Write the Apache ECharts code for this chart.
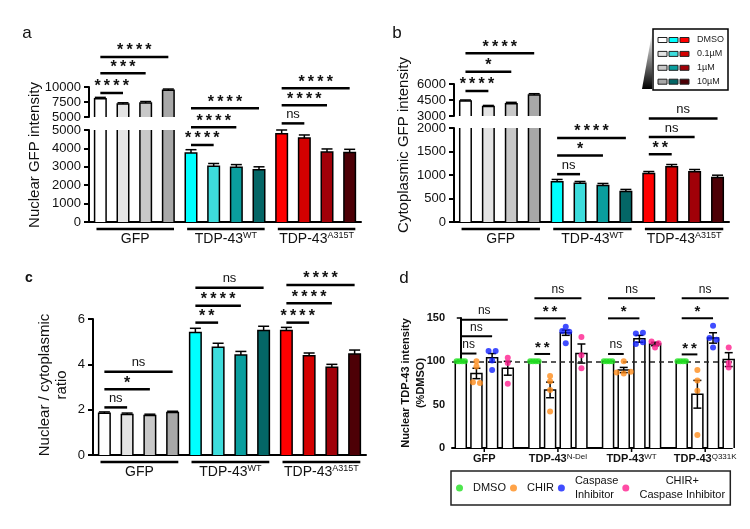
<!DOCTYPE html>
<html>
<head>
<meta charset="utf-8">
<title>GFP / TDP-43 intensity</title>
<script src="https://cdn.jsdelivr.net/npm/echarts@6/dist/echarts.min.js"></script>
<style>
  html, body { margin: 0; padding: 0; background: #fff; }
  #chart { width: 750px; height: 529px; }
</style>
</head>
<body>
<div id="chart"></div>
<script>
const FONT = '"Liberation Sans", Arial, sans-serif';

// panels a-c: three constructs, four doses each
const doses = ['DMSO', '0.1µM', '1µM', '10µM'];
const constructs = ['GFP', 'TDP-43', 'TDP-43'];
const constructSup = ['', 'WT', 'A315T'];

const nuclearGfp = [8050, 7170, 7330, 9440, 3750, 3030, 2980, 2840, 4800, 4560, 3800, 3780];
const nuclearGfpErr = [220, 200, 250, 220, 180, 150, 140, 160, 200, 170, 170, 170];
const cytoGfp = [4410, 3880, 4160, 4970, 855, 827, 777, 650, 1032, 1173, 1067, 947];
const cytoGfpErr = [90, 110, 120, 120, 50, 35, 43, 43, 42, 50, 50, 49];
const ratio = [1.84, 1.79, 1.74, 1.87, 5.40, 4.75, 4.41, 5.49, 5.49, 4.38, 3.87, 4.46];
const ratioErr = [0.06, 0.06, 0.06, 0.06, 0.19, 0.18, 0.16, 0.19, 0.14, 0.12, 0.13, 0.17];

// significance bars: [from bar, to bar, height (axis units), label]
const aSigUpper = [[0, 1, 9000, '****'], [0, 2, 12300, '***'], [0, 3, 15000, '****']];
const aSigLower = [[4, 5, 4185, '****'], [4, 6, 5145, '****'], [4, 7, 6180, '****'],
                   [8, 9, 5360, 'ns'], [8, 10, 6340, '****'], [8, 11, 7265, '****']];
const bSigUpper = [[0, 1, 5344, '****'], [0, 2, 7156, '*'], [0, 3, 8875, '****']];
const bSigLower = [[4, 5, 1018, 'ns'], [4, 6, 1414, '*'], [4, 7, 1788, '****'],
                   [8, 9, 1442, '**'], [8, 10, 1810, 'ns'], [8, 11, 2200, 'ns']];
const cSig = [[0, 1, 2.10, 'ns'], [0, 2, 2.90, '*'], [0, 3, 3.67, 'ns'],
              [4, 5, 5.84, '**'], [4, 6, 6.59, '****'], [4, 7, 7.38, 'ns'],
              [8, 9, 5.84, '****'], [8, 10, 6.69, '****'], [8, 11, 7.5, '****']];

// panel d: four constructs x four treatments
const dConstructs = ['GFP', 'TDP-43', 'TDP-43', 'TDP-43'];
const dConstructSup = ['', 'N-Del', 'WT', 'Q331K'];
const dTreatments = ['DMSO', 'CHIR', 'Caspase Inhibitor', 'CHIR+ Caspase Inhibitor'];
const dDmso = [100, 100, 100, 100];
const dChir = [86, 67, 90, 62];
const dCasp = [104, 133, 126, 127];
const dCombo = [92, 109, 120, 102];
const dDmsoErr = [0, 0, 0, 0];
const dChirErr = [6, 9, 3, 16];
const dCaspErr = [5, 3, 4, 6];
const dComboErr = [8, 11, 2, 8];
const dDmsoPts = [[100, 100, 100, 100], [100, 100, 100, 100], [100, 100, 100, 100], [100, 100, 100, 100]];
const dChirPts = [[100, 94, 76, 75], [83, 77, 67, 42], [100, 87, 86, 88], [90, 78, 66, 15]];
const dCaspPts = [[112, 112, 101, 90], [140, 135, 134, 121], [132, 133, 120, 122], [141, 127, 125, 116]];
const dComboPts = [[104, 98, 74], [128, 107, 92], [123, 121, 116], [116, 98, 93]];
// [construct, treatment, treatment, height, label]
const dSig = [[0, 0, 1, 109, 'ns'], [0, 0, 2, 129, 'ns'], [0, 0, 3, 148, 'ns'],
              [1, 0, 1, 108.5, '**'], [1, 0, 2, 149.6, '**'], [1, 0, 3, 172.7, 'ns'],
              [2, 0, 1, 108.5, 'ns'], [2, 0, 2, 149.6, '*'], [2, 0, 3, 172.7, 'ns'],
              [3, 0, 1, 108, '**'], [3, 0, 2, 149.6, '*'], [3, 0, 3, 172.7, 'ns']];

// colours
const gfpShades = ['#ffffff', '#e4e4e4', '#c8c8c8', '#a8a8a8'];
const wtShades = ['#00ffff', '#3ddcdc', '#0a9e9e', '#046666'];
const mutShades = ['#ff0000', '#d40000', '#a00008', '#4d0006'];
const dotColors = ['#22e022', '#ff8c1a', '#1020ff', '#ff1f8f'];
const barColors = gfpShades.concat(wtShades, mutShades);

const categories = [];
constructs.forEach((c, g) => doses.forEach(d => categories.push(c + constructSup[g] + ' ' + d)));

const D_STEP = 4.7; // construct spacing in bar widths, panel d
const dPos = (g, t) => g * D_STEP + t;

function barData(vals, errs) {
  return vals.map((v, i) => [i, v, errs[i]]);
}

// bars with outline + SEM whisker; clipped to the grid for the broken axes
function barRenderer(colorOf, barW, capW, twoSided) {
  return function (params, api) {
    const cs = params.coordSys;
    const top = cs.y, bot = cs.y + cs.height;
    const xv = api.value(0), v = api.value(1), e = api.value(2);
    const base = api.coord([xv, 0]);
    const x = base[0];
    const yv = api.coord([xv, v])[1];
    if (yv >= bot - 0.5) return;
    const y0 = Math.min(base[1], bot);
    const y1 = Math.max(yv, top);
    const l = x - barW / 2, r = x + barW / 2;
    const pen = { stroke: '#000', lineWidth: 1.5, fill: null };
    const kids = [{ type: 'rect', shape: { x: l, y: y1, width: barW, height: y0 - y1 },
                    style: { fill: colorOf(params.dataIndex) } }];
    if (yv >= top) {
      kids.push({ type: 'polyline', shape: { points: [[l, y0], [l, yv], [r, yv], [r, y0]] }, style: pen });
      if (e > 0) {
        const ye = api.coord([xv, v + e])[1];
        const yl = twoSided ? api.coord([xv, v - e])[1] : yv;
        kids.push({ type: 'line', shape: { x1: x, y1: ye, x2: x, y2: yl }, style: pen });
        kids.push({ type: 'line', shape: { x1: x - capW, y1: ye, x2: x + capW, y2: ye }, style: pen });
        if (twoSided) kids.push({ type: 'line', shape: { x1: x - capW, y1: yl, x2: x + capW, y2: yl }, style: pen });
      }
    } else {
      kids.push({ type: 'line', shape: { x1: l, y1: y0, x2: l, y2: top }, style: pen });
      kids.push({ type: 'line', shape: { x1: r, y1: y0, x2: r, y2: top }, style: pen });
    }
    return { type: 'group', children: kids };
  };
}

function sigRenderer(labels, starSize, nsSize, lineW) {
  return function (params, api) {
    const p1 = api.coord([api.value(0), api.value(2)]);
    const p2 = api.coord([api.value(1), api.value(2)]);
    const lab = labels[params.dataIndex];
    const ns = lab === 'ns';
    return {
      type: 'group',
      children: [
        { type: 'line', shape: { x1: p1[0], y1: p1[1], x2: p2[0], y2: p2[1] },
          style: { stroke: '#000', lineWidth: lineW } },
        { type: 'text', style: {
            text: ns ? lab : lab.split('').join('\u2009'),
            x: (p1[0] + p2[0]) / 2, y: p1[1] - (ns ? 9 : 6),
            align: 'center', verticalAlign: 'middle', fill: '#111',
            fontFamily: FONT, fontSize: ns ? nsSize : starSize, fontWeight: ns ? 'normal' : 'bold' } }
      ]
    };
  };
}

// underline + name below each construct (panels a-c)
function groupRenderer(params, api) {
  const g = params.dataIndex;
  const first = api.coord([api.value(0), 0]);
  const bw = api.size([1, 0])[0];
  const yAxis = params.coordSys.y + params.coordSys.height;
  const x1 = first[0] - 0.17 * bw, x2 = first[0] + 3.25 * bw;
  return {
    type: 'group',
    children: [
      { type: 'line', shape: { x1: x1, y1: yAxis + 7, x2: x2, y2: yAxis + 7 },
        style: { stroke: '#000', lineWidth: 2.5 } },
      { type: 'text', style: {
          text: '{n|' + constructs[g] + '}' + (constructSup[g] ? '{s|' + constructSup[g] + '}' : ''),
          x: (x1 + x2) / 2, y: yAxis + 17, align: 'center', verticalAlign: 'middle',
          rich: { n: { fontFamily: FONT, fontSize: 14, lineHeight: 16, fill: '#111' },
                  s: { fontFamily: FONT, fontSize: 9, lineHeight: 16, verticalAlign: 'top', fill: '#111' } } } }
    ]
  };
}

function dGroupRenderer(params, api) {
  const g = params.dataIndex;
  const c = api.coord([api.value(0), 0]);
  return {
    type: 'group',
    children: [
      { type: 'line', shape: { x1: c[0], y1: c[1], x2: c[0], y2: c[1] + 4 }, style: { stroke: '#000', lineWidth: 1.5 } },
      { type: 'text', style: {
          text: '{n|' + dConstructs[g] + '}' + (dConstructSup[g] ? '{s|' + dConstructSup[g] + '}' : ''),
          x: c[0], y: c[1] + 11, align: 'center', verticalAlign: 'middle',
          rich: { n: { fontFamily: FONT, fontSize: 11, fontWeight: 'bold', lineHeight: 13, fill: '#111' },
                  s: { fontFamily: FONT, fontSize: 8, lineHeight: 13, verticalAlign: 'top', fill: '#111' } } } }
    ]
  };
}

// horizontal spread of overlapping dots
function spread(vals, w) {
  return vals.map((v, k) => {
    const near = vals.map((_, j) => j).filter(j => Math.abs(vals[j] - v) < 4);
    return (near.indexOf(k) - (near.length - 1) / 2) * w;
  });
}

const yAxisBase = {
  axisLine: { show: true, lineStyle: { color: '#000', width: 2 } },
  axisTick: { show: true, length: 5, lineStyle: { color: '#000', width: 2 } },
  axisLabel: { fontFamily: FONT, fontSize: 13, color: '#111', margin: 8, formatter: v => String(v) },
  splitLine: { show: false }
};
const catAxis = (gi, showLine) => ({
  type: 'category', gridIndex: gi, data: categories, show: showLine,
  axisLine: { show: showLine, onZero: false, lineStyle: { color: '#000', width: 2 } },
  axisTick: { show: false }, axisLabel: { show: false }
});

const series = [];
function addBarPanel(xi, vals, errs, sig) {
  series.push({ type: 'custom', xAxisIndex: xi, yAxisIndex: xi, data: barData(vals, errs),
    encode: { x: 0, y: 1 }, renderItem: barRenderer(i => barColors[i], 11.5, 5.5, false), z: 2 });
  series.push({ type: 'custom', xAxisIndex: xi, yAxisIndex: xi, data: sig.map(s => [s[0], s[1], s[2]]),
    encode: { x: [0, 1], y: 2 }, renderItem: sigRenderer(sig.map(s => s[3]), 16, 13, 2.5), z: 3 });
}
addBarPanel(0, nuclearGfp, nuclearGfpErr, aSigUpper);
addBarPanel(1, nuclearGfp, nuclearGfpErr, aSigLower);
addBarPanel(2, cytoGfp, cytoGfpErr, bSigUpper);
addBarPanel(3, cytoGfp, cytoGfpErr, bSigLower);
addBarPanel(4, ratio, ratioErr, cSig);
[1, 3, 4].forEach(xi => series.push({ type: 'custom', xAxisIndex: xi, yAxisIndex: xi,
  data: [[0, 0], [4, 0], [8, 0]], encode: { x: 0, y: 1 }, renderItem: groupRenderer, z: 3 }));

// panel d
const dMeans = [dDmso, dChir, dCasp, dCombo];
const dErrs = [dDmsoErr, dChirErr, dCaspErr, dComboErr];
const dPts = [dDmsoPts, dChirPts, dCaspPts, dComboPts];
const dBars = [];
dMeans.forEach((m, t) => m.forEach((v, g) => dBars.push([dPos(g, t), v, dErrs[t][g]])));
series.push({ type: 'custom', xAxisIndex: 5, yAxisIndex: 5, data: dBars, encode: { x: 0, y: 1 },
  renderItem: barRenderer(() => '#fff', 11, 4, true), z: 2 });
series.push({ type: 'custom', xAxisIndex: 5, yAxisIndex: 5,
  data: dSig.map(s => [dPos(s[0], s[1]), dPos(s[0], s[2]), s[3]]), encode: { x: [0, 1], y: 2 },
  renderItem: sigRenderer(dSig.map(s => s[4]), 15, 12, 2), z: 3 });
series.push({ type: 'custom', xAxisIndex: 5, yAxisIndex: 5,
  data: dConstructs.map((_, g) => [dPos(g, 1.5), 0]), encode: { x: 0, y: 1 }, renderItem: dGroupRenderer, z: 3 });
dTreatments.forEach((name, t) => {
  const pts = [];
  dPts[t].forEach((vals, g) => {
    const off = spread(vals, t === 0 ? 0.18 : 0.45);
    vals.forEach((v, k) => pts.push([dPos(g, t) + off[k], v]));
  });
  const s = { type: 'scatter', name: name, xAxisIndex: 5, yAxisIndex: 5, data: pts,
    symbol: 'circle', symbolSize: 6, itemStyle: { color: dotColors[t] }, z: 5 };
  if (t === 0) {
    s.markLine = { silent: true, symbol: ['none', 'none'], label: { show: false },
      lineStyle: { type: [5, 4], color: '#222', width: 1.5 }, data: [{ yAxis: 100 }] };
  }
  series.push(s);
});

// b: dose legend with gradient wedge
const legendB = [
  { type: 'polygon', shape: { points: [[642, 89], [652, 89], [652, 33]] },
    style: { fill: new echarts.graphic.LinearGradient(0, 0, 0, 1, [{ offset: 0, color: '#ffffff' }, { offset: 1, color: '#000000' }]) } },
  { type: 'rect', shape: { x: 653, y: 29, width: 75, height: 61 }, style: { fill: '#fff', stroke: '#000', lineWidth: 1.5 } }
];
doses.forEach((d, r) => {
  const y = 40 + r * 13.9;
  [gfpShades[r], wtShades[r], mutShades[r]].forEach((c, k) => legendB.push({
    type: 'rect', shape: { x: 658 + k * 11, y: y - 2.5, width: 9, height: 5 },
    style: { fill: c, stroke: '#222', lineWidth: 1 } }));
  legendB.push({ type: 'text', style: { text: d, x: 697, y: y, verticalAlign: 'middle',
    fontFamily: FONT, fontSize: 9, fill: '#222' } });
});

const txt = (text, x, y, size, extra) => ({ type: 'text', style: Object.assign({
  text: text, x: x, y: y, fontFamily: FONT, fontSize: size, fill: '#111',
  align: 'center', verticalAlign: 'middle' }, extra || {}) });
const rot = (el, x, y) => Object.assign(el, { x: x, y: y, rotation: Math.PI / 2,
  style: Object.assign(el.style, { x: 0, y: 0 }) });

const option = {
  animation: false,
  backgroundColor: '#fff',
  grid: [
    { left: 89, top: 87, width: 272, height: 30 },
    { left: 89, top: 130, width: 272, height: 92 },
    { left: 454, top: 84, width: 275, height: 32 },
    { left: 454, top: 128, width: 275, height: 94 },
    { left: 93, top: 319, width: 273, height: 136 },
    { left: 452, top: 318, width: 280, height: 130 }
  ],
  xAxis: [
    catAxis(0, false), catAxis(1, true), catAxis(2, false), catAxis(3, true), catAxis(4, true),
    { type: 'value', gridIndex: 5, min: -0.56, max: 17.31,
      axisLine: { show: true, onZero: false, lineStyle: { color: '#000', width: 2 } },
      axisTick: { show: false }, axisLabel: { show: false }, splitLine: { show: false } }
  ],
  yAxis: [
    Object.assign({ type: 'value', gridIndex: 0, min: 5000, max: 10000, interval: 2500 }, yAxisBase),
    Object.assign({ type: 'value', gridIndex: 1, min: 0, max: 5000, interval: 1000 }, yAxisBase),
    Object.assign({ type: 'value', gridIndex: 2, min: 3000, max: 6000, interval: 1500 }, yAxisBase),
    Object.assign({ type: 'value', gridIndex: 3, min: 0, max: 2000, interval: 500 }, yAxisBase),
    Object.assign({ type: 'value', gridIndex: 4, min: 0, max: 6, interval: 2 }, yAxisBase),
    Object.assign({}, yAxisBase, { type: 'value', gridIndex: 5, min: 0, max: 150, interval: 50,
      axisTick: { show: true, length: 4, lineStyle: { color: '#000', width: 1.5 } },
      axisLabel: { fontFamily: FONT, fontSize: 11, fontWeight: 'bold', color: '#111', margin: 7 } })
  ],
  legend: {
    left: 451, top: 471, orient: 'horizontal', padding: [3, 5], itemGap: 4,
    itemWidth: 7, itemHeight: 7, icon: 'circle',
    borderColor: '#222', borderWidth: 1.5,
    data: dTreatments,
    formatter: name => {
      if (name === 'Caspase Inhibitor') return 'Caspase\nInhibitor';
      if (name === 'CHIR+ Caspase Inhibitor') return '{c|CHIR+}\n{c|Caspase Inhibitor}';
      return name;
    },
    textStyle: { fontFamily: FONT, fontSize: 11, color: '#111', padding: [0, 0, 0, 5], lineHeight: 14,
      rich: { c: { fontFamily: FONT, fontSize: 11, width: 86, align: 'center', lineHeight: 14 } } }
  },
  graphic: [
    txt('a', 27, 33, 17),
    txt('b', 397, 33, 17),
    txt('c', 29, 278, 14, { fontWeight: 'bold' }),
    txt('d', 404, 278, 17),
    rot(txt('Nuclear GFP intensity', 0, 0, 15), 35, 155),
    rot(txt('Cytoplasmic GFP intensity', 0, 0, 15), 404, 145),
    rot(txt('Nuclear / cytoplasmic\nratio', 0, 0, 15, { lineHeight: 17 }), 53, 385),
    rot(txt('Nuclear TDP-43 intensity\n(%DMSO)', 0, 0, 11, { fontWeight: 'bold', lineHeight: 15 }), 413, 383)
  ].concat(legendB),
  series: series
};

const chart = echarts.init(document.getElementById('chart'));
chart.setOption(option);
window.addEventListener('resize', () => chart.resize());
</script>
</body>
</html>
